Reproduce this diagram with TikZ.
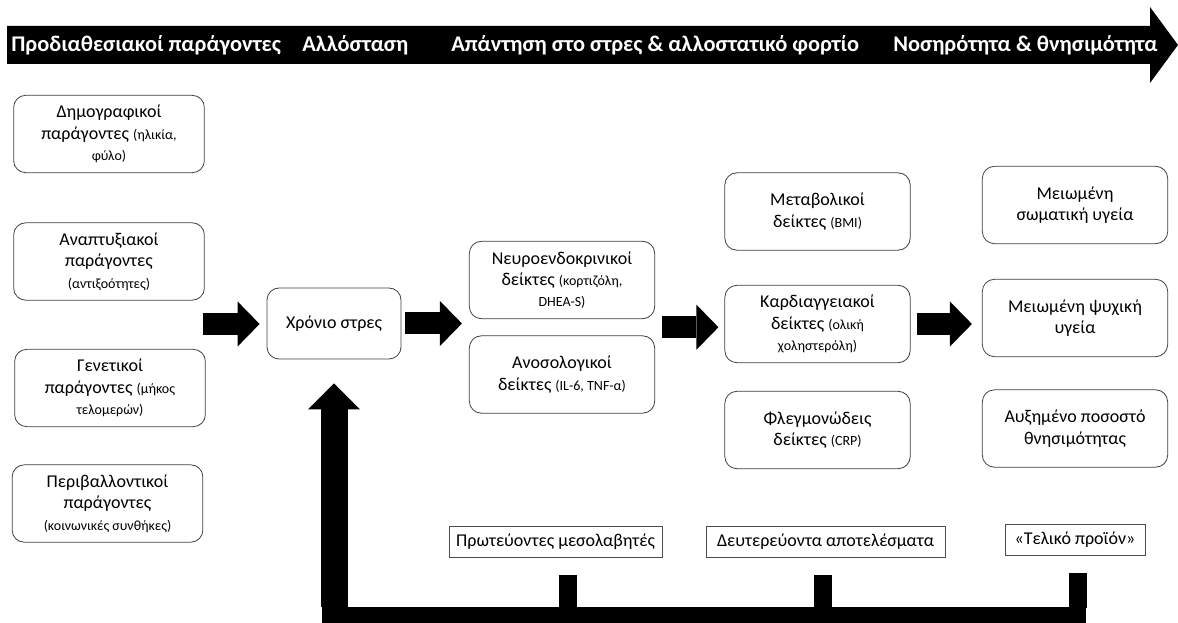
\documentclass[tikz,border=0pt]{standalone}
\usepackage{fontspec}
\setmainfont{Carlito}
\usetikzlibrary{arrows.meta,calc}
\tikzset{>=latex}
\newcommand{\smalltxt}[1]{{\fontsize{10.5}{16}\selectfont #1}}
\tikzset{
  box/.style={draw=black!75, line width=0.6pt, rounded corners=9pt, align=center,
    font=\fontsize{13.5}{16}\selectfont, inner sep=1pt, minimum width=139pt, minimum height=58pt},
  leftbox/.style={box, minimum width=143pt},
  tag/.style={draw=black!70, line width=0.5pt, font=\fontsize{13.5}{16}\selectfont,
    inner sep=0pt, minimum height=23.25pt},
  fat/.style={line width=16.5pt, -{Triangle[length=16.5pt,width=33.75pt,line width=0pt]}},
  uparrow/.style={line width=20.25pt, -{Triangle[length=19.5pt,width=39pt,line width=0pt]}},
  stage/.style={text=white, font=\fontsize{16.8}{20}\selectfont\bfseries, anchor=west, inner sep=0pt},
}

\begin{document}
\begin{tikzpicture}[x=0.75pt,y=-0.75pt]
	\useasboundingbox (0,0) rectangle (1178,623);
	\clip (0,0) rectangle (1178,623);

	% os czasu
	\fill (7,26) -- (1150,26) -- (1150,7) -- (1178,45) -- (1150,83) -- (1150,64) -- (7,64) -- cycle;
	\node[stage] (predisp) at (11,45) {Προδιαθεσιακοί παράγοντες};
	\node[stage] (allost) at (302,45) {Αλλόσταση};
	\node[stage] (response) at (451,45) {Απάντηση στο στρες \& αλλοστατικό φορτίο};
	\node[stage] (morbid) at (893,45) {Νοσηρότητα \& θνησιμότητα};

	% czynniki
	\node[leftbox] (demo) at (109,134) {Δημογραφικοί\\ παράγοντες \smalltxt{(ηλικία,}\\ \smalltxt{φύλο)}};
	\node[leftbox] (devel) at (109,261.5) {Αναπτυξιακοί\\ παράγοντες\\ \smalltxt{(αντιξοότητες)}};
	\node[leftbox] (genet) at (110,388) {Γενετικοί\\ παράγοντες \smalltxt{(μήκος}\\ \smalltxt{τελομερών)}};
	\node[leftbox] (envir) at (107.5,503.5) {Περιβαλλοντικοί\\ παράγοντες\\ \smalltxt{(κοινωνικές συνθήκες)}};

	\node[box, minimum width=100.5pt, minimum height=53.25pt] (chronic) at (334,323.5) {Χρόνιο στρες};

	\node[box] (neuro) at (562,280) {Νευροενδοκρινικοί\\ δείκτες \smalltxt{(κορτιζόλη,}\\ \smalltxt{DHEA-S)}};
	\node[box] (immuno) at (562,374.5) {Ανοσολογικοί\\ δείκτες \smalltxt{(IL-6, TNF-α)}};

	\node[box] (metab) at (817.5,211.5) {Μεταβολικοί\\ δείκτες \smalltxt{(BMI)}};
	\node[box] (cardio) at (817.5,324) {Καρδιαγγειακοί\\ δείκτες \smalltxt{(ολική}\\ \smalltxt{χοληστερόλη)}};
	\node[box] (inflam) at (817.5,430) {Φλεγμονώδεις\\ δείκτες \smalltxt{(CRP)}};

	\node[box] (somat) at (1075,205) {Μειωμένη\\ σωματική υγεία};
	\node[box] (psych) at (1075,318) {Μειωμένη ψυχική\\ υγεία};
	\node[box] (mortal) at (1075,428.5) {Αυξημένο ποσοστό\\ θνησιμότητας};

	\node[tag, minimum width=159.75pt] (mediat) at (555.5,541.5) {Πρωτεύοντες μεσολαβητές};
	\node[tag, minimum width=179.25pt] (second) at (825.5,541.5) {Δευτερεύοντα αποτελέσματα};
	\node[tag, minimum width=105pt] (final) at (1075,540) {«Τελικό προϊόν»};

	% strzalki
	\coordinate (factors) at (203,324);
	\coordinate (midA) at ($(neuro.south west)!.5!(immuno.north west)$);
	\coordinate (midB) at ($(neuro.south east)!.5!(immuno.north east)$);
	\draw[fat, shorten >=5.25pt] (factors) -- (factors -| chronic.west);
	\draw[fat, shorten <=3pt, shorten >=5.25pt] (chronic.east) -- (chronic.east -| midA);
	\draw[fat, shorten <=5.25pt, shorten >=4.5pt] (midB) -- (midB -| cardio.west);
	\draw[fat, shorten <=4.5pt, shorten >=7.5pt] (cardio.east) -- (cardio.east -| psych.west);

	% sprzezenie zwrotne
	\coordinate (fbcorner) at (334,607);
	\fill (322,607) rectangle (1086,640);
	\draw[uparrow, shorten >=18pt] (fbcorner) -- (chronic.south);
	\foreach \sx/\sy in {568/575, 822.5/575, 1077.5/573} {
	     \fill (\sx-9,\sy) rectangle (\sx+9,608);
	}
\end{tikzpicture}
\end{document}
